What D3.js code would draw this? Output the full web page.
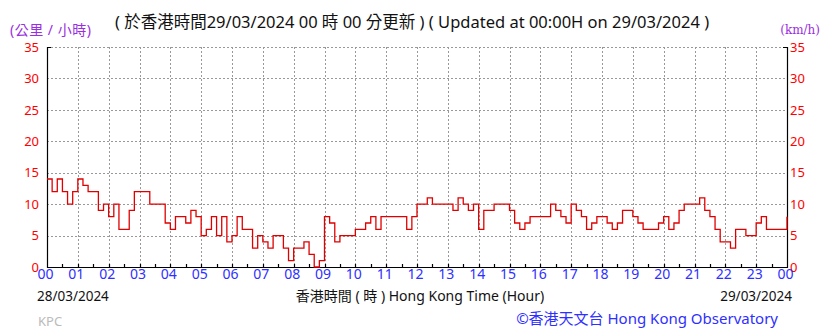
<!DOCTYPE html>
<html>
<head>
<meta charset="utf-8">
<script src="https://cdn.jsdelivr.net/npm/d3@7"></script>
<style>
  body { margin: 0; background: #fff; }
  svg text { font-family: "Noto Sans", "Noto Sans CJK TC", sans-serif; }
</style>
</head>
<body>
<script>
// 10-minute mean wind speed (km/h), 00:00 28/03 -> 00:00 29/03
var windSpeed = [
  14,12,14,12,10,12, 14,13,12,12,9,10, 8,10,6,6,9,12, 12,12,10,10,10,7,
  6,8,8,7,9,8, 5,6,8,5,8,4, 5,8,6,6,3,5, 4,3,5,5,3,1,
  3,3,4,2,0,1, 8,7,4,5,5,5, 6,6,7,8,6,8, 8,8,8,8,6,8,
  10,10,11,10,10,10, 10,9,11,10,9,10, 6,9,9,10,10,10, 9,7,6,7,8,8,
  8,8,10,9,8,7, 10,9,8,6,7,8, 8,7,6,7,9,9, 8,7,6,6,6,7,
  8,6,7,9,10,10, 10,11,9,8,6,4, 4,3,6,6,5,5, 7,8,6,6,6,6,
  8
];
var minutes = d3.range(0, 1441, 10);
var yTicks = [0, 5, 10, 15, 20, 25, 30, 35];
var hourTicks = d3.range(0, 25);
var hourLabels = hourTicks.map(function(h){ return h === 24 ? '00' : d3.format('02d')(h); });

var W = 838, H = 331;
var pL = 47, pR = 787, pT = 47, pB = 267;

var svg = d3.select('body').append('svg').attr('width', W).attr('height', H);
svg.append('rect').attr('width', W).attr('height', H).attr('fill', '#fff');

var x = d3.scaleLinear().domain([0, 24]).range([pL, pR]);
var y = d3.scaleLinear().domain([0, 35]).range([pB, pT]);

// grid
var grid = svg.append('g').attr('stroke', '#999').attr('stroke-dasharray', '2,2').attr('stroke-width', 1);
grid.selectAll('.hg').data(yTicks.slice(1)).enter().append('line')
  .attr('x1', pL).attr('x2', pR)
  .attr('y1', function(d){ return Math.round(y(d)) + 0.5; })
  .attr('y2', function(d){ return Math.round(y(d)) + 0.5; });
grid.selectAll('.vg').data(hourTicks.slice(1, 24)).enter().append('line')
  .attr('y1', pT).attr('y2', pB)
  .attr('x1', function(d){ return Math.round(x(d)) + 0.5; })
  .attr('x2', function(d){ return Math.round(x(d)) + 0.5; });

// axes
var yl = svg.append('g').attr('transform', 'translate(' + pL + ',0)')
  .call(d3.axisLeft(y).tickValues(yTicks).tickSize(0).tickPadding(8));
var yr = svg.append('g').attr('transform', 'translate(' + pR + ',0)')
  .call(d3.axisRight(y).tickValues(yTicks).tickSize(0).tickPadding(3));
[yl, yr].forEach(function(g){
  g.select('.domain').remove();
  g.selectAll('text').attr('fill', '#ff0000').style('font-size', '13px');
});

var xa = svg.append('g').attr('transform', 'translate(-2,' + pB + ')')
  .call(d3.axisBottom(x).tickValues(hourTicks).tickSize(0).tickPadding(2)
    .tickFormat(function(d, i){ return hourLabels[i]; }));
xa.select('.domain').remove();
xa.selectAll('text').attr('fill', '#2f2fff').style('font-size', '14px');

var frame = svg.append('g').attr('stroke', '#000').attr('stroke-width', 1.2).attr('fill', 'none');
frame.append('path').attr('d', 'M' + (pL + 4) + ',' + (pT + 0.5) + 'H' + (pL + 0.5) + 'V' + (pB + 0.5) + 'H' + (pR + 0.5) + 'V' + (pT + 0.5) + 'H' + (pR - 4));
// half-hour ticks on the bottom axis
frame.selectAll('.mt').data(d3.range(0.5, 24, 0.5)).enter().append('line')
  .attr('x1', function(d){ return Math.round(x(d)) + 0.5; })
  .attr('x2', function(d){ return Math.round(x(d)) + 0.5; })
  .attr('y1', pB).attr('y2', pB - 3);

// wind line
var line = d3.line()
  .x(function(d, i){ return x(minutes[i] / 60); })
  .y(function(d){ return y(d); })
  .curve(d3.curveStepAfter);
svg.append('path').datum(windSpeed)
  .attr('d', line)
  .attr('fill', 'none').attr('stroke', '#e00000').attr('stroke-width', 1.3);

// texts
svg.append('text').attr('x', 10).attr('y', 35).attr('fill', '#9a2ee0').style('font-size', '14px')
  .style('letter-spacing', '0.5px').text('(公里 / 小時)');
svg.append('text').attr('x', 820).attr('y', 34).attr('text-anchor', 'end').attr('fill', '#9a2ee0')
  .style('font-family', '"DejaVu Serif", serif').style('font-size', '12px').text('(km/h)');
svg.append('text').attr('x', 412).attr('y', 28).attr('text-anchor', 'middle').attr('fill', '#111').style('font-size', '16.5px')
  .text('( 於香港時間29/03/2024 00 時 00 分更新 ) ( Updated at 00:00H on 29/03/2024 )');
svg.append('text').attr('x', 37).attr('y', 301).attr('fill', '#111').style('font-size', '13.5px').text('28/03/2024');
svg.append('text').attr('x', 792).attr('y', 301).attr('text-anchor', 'end').attr('fill', '#111').style('font-size', '13.5px').text('29/03/2024');
svg.append('text').attr('x', 420).attr('y', 301).attr('text-anchor', 'middle').attr('fill', '#111').style('font-size', '14px')
  .text('香港時間 ( 時 ) Hong Kong Time (Hour)');
svg.append('text').attr('x', 38).attr('y', 326).attr('fill', '#bbb').style('font-size', '13px').text('KPC');
svg.append('text').attr('x', 778).attr('y', 324).attr('text-anchor', 'end').attr('fill', '#2f2fff').style('font-size', '15px')
  .text('©香港天文台 Hong Kong Observatory');
</script>
</body>
</html>
